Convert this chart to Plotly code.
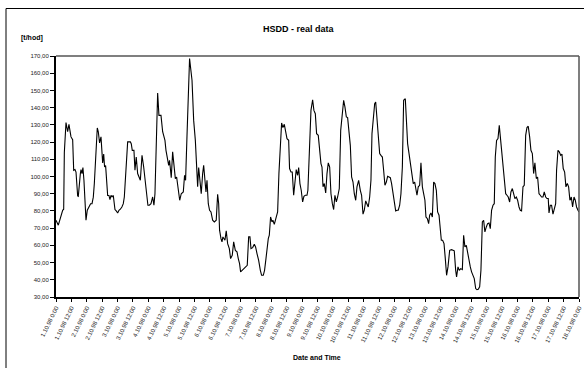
import plotly.graph_objects as go

# hours since 1.10.98 0:00
hours = [
    0, 1.8, 5.2, 6.0, 6.5, 7.0, 7.8, 9.1, 10.1, 10.6, 11.7, 13.0, 13.8, 14.8, 15.6, 16.9, 17.4,
    19.0, 19.5, 20.3, 21.0, 21.8, 22.6, 23.4, 24.4, 25.7, 27.0, 28.1, 29.1, 29.9, 30.7, 31.4,
    32.2, 33.0, 34.0, 35.1, 35.9, 36.4, 37.2, 37.9, 38.7, 39.5, 40.3, 41.3, 42.1, 42.9, 43.7,
    44.7, 46.0, 47.0, 48.1, 49.1, 50.2, 51.4, 52.5, 53.3, 54.3, 55.1, 55.9, 56.9, 58.0, 58.7,
    59.5, 60.8, 61.6, 62.6, 63.7, 65.8, 67.1, 68.4, 69.6, 70.7, 71.7, 72.8, 74.1, 75.4, 76.4,
    77.2, 78.2, 79.3, 80.3, 81.9, 83.2, 85.0, 85.8, 87.1, 87.9, 88.6, 89.9, 91.0, 92.0, 93.1,
    94.1, 95.4, 96.5, 97.7, 99.3, 100.3, 101.1, 102.2, 103.2, 104.2,
    106.1, 107.4, 108.7, 109.4, 110.5, 111.3, 112.0, 113.3, 114.4, 115.2, 116.2, 117.0, 117.8,
    118.8, 119.8, 120.9, 122.2, 123.5, 125.0, 126.1, 126.9, 127.6, 128.7, 129.5, 130.2, 131.8,
    132.8, 133.9, 135.2, 136.2, 137.5, 138.6, 139.9, 141.2, 142.2, 143.2, 144.0, 145.1, 146.4,
    147.9, 149.2, 150.3, 151.3, 152.1, 153.4, 154.7, 155.7, 156.8, 158.1, 159.4, 160.4, 161.7,
    162.7, 163.8, 164.8, 165.6, 166.4, 167.4, 168.5, 169.2, 170.3, 171.6, 172.9, 173.9, 175.0,
    176.0, 177.0, 178.1, 179.1, 180.2, 181.5, 182.2, 183.3, 184.3, 185.4, 186.4, 187.4, 188.5,
    189.3, 190.3, 191.3, 192.4, 193.4, 194.5, 195.8, 196.5, 197.8, 198.9, 200.2, 201.2, 202.3,
    203.3, 204.6, 205.6,
    206.7, 207.5, 208.3, 209.3, 210.4, 211.4, 212.4, 213.5, 214.5, 215.6, 216.6, 217.6, 218.7,
    219.7, 221.0, 222.1, 223.1, 224.4, 225.4, 226.5, 227.5, 228.8, 229.6, 230.6, 231.7, 232.7,
    233.8, 234.8, 236.1, 237.4, 238.4, 239.5, 240.5, 241.6, 242.6, 243.6, 244.7, 245.7, 246.5,
    247.5, 248.6, 249.4, 250.4, 251.4, 252.5, 253.5, 254.6, 255.6, 256.6, 257.7, 258.7, 259.8,
    260.8, 261.8, 262.9, 263.9, 265.0, 266.0, 267.0, 268.1, 269.1, 270.2, 271.2, 272.5, 273.3,
    274.3, 275.4, 276.4, 277.7, 278.7, 279.8, 280.8, 281.6, 282.6, 283.7, 284.7, 285.8, 286.8,
    287.8, 288.6, 289.7, 290.7, 291.5, 292.5, 293.6, 294.6, 295.6, 296.7, 297.7, 298.8, 299.8,
    300.6, 301.6, 302.7, 303.7, 304.7, 305.8, 307.1,
    308.6, 309.7, 310.7, 311.8, 312.5, 313.6, 314.6, 315.7, 317.0, 318.0, 319.0, 320.1, 321.1,
    322.2, 323.2, 324.2, 325.3, 326.3, 327.4, 328.4, 329.4, 330.5, 331.5, 332.6, 333.6, 334.6,
    335.7, 336.7, 337.8, 338.8, 339.8, 340.9, 341.9, 342.7, 343.7, 344.8, 345.8, 346.6, 347.6,
    348.7, 349.7, 350.8, 351.8, 352.8, 353.9, 354.9, 356.0, 357.0, 358.0, 359.1, 360.1, 361.2,
    362.2, 363.2, 364.3, 365.3, 366.4, 367.4, 368.4, 369.5, 370.5, 371.6, 372.6, 373.6, 374.7,
    375.7, 376.8, 377.8, 378.8, 379.9, 380.9, 382.0, 383.0, 384.0, 384.6, 385.6, 386.6, 387.7,
    388.7, 389.8, 390.5, 391.6, 392.6, 393.7, 394.7, 395.7, 396.8, 397.8, 398.9, 399.9, 400.9,
    402.0, 403.0, 404.1, 405.1, 406.1, 407.2, 408.0,
]

flow = [
    74.6, 71.7, 80.4, 81.0, 114.0, 123.0, 131.3, 126.0, 130.3, 128.0, 123.0, 121.4, 103.6, 104.0, 102.6, 88.7, 88.5,
    101.7, 104.0, 101.7, 105.2, 97.8, 86.0, 74.6, 80.4, 82.3, 84.2, 84.2, 88.0, 95.9, 107.5, 119.0,
    128.2, 126.0, 119.5, 123.0, 113.3, 107.9, 113.0, 105.5, 106.3, 94.0, 89.0, 89.0, 86.6, 89.0, 88.2,
    89.0, 80.8, 80.0, 78.8, 80.4, 81.0, 82.3, 84.2, 88.1, 101.7, 113.3, 120.1, 120.1, 120.1, 119.1,
    115.2, 115.2, 103.6, 111.3, 101.7, 97.8, 112.3, 105.5, 95.9, 88.1, 83.3, 83.3, 84.2, 88.1, 83.3,
    90.0, 115.2, 148.5, 135.5, 135.5, 126.0, 121.0, 115.2, 108.0, 106.5, 109.4, 99.3, 114.3, 104.6, 98.8,
    99.7, 92.0, 86.2, 90.0, 91.0, 100.7, 97.8, 123.9, 148.1, 168.5,
    155.9, 132.6, 121.0, 111.3, 94.0, 105.2, 97.8, 90.0, 101.7, 106.5, 97.8, 91.0, 97.8,
    84.2, 80.4, 79.4, 74.6, 73.6, 74.6, 89.7, 84.2, 68.8, 63.9, 62.0, 64.9, 63.0,
    68.4, 61.0, 58.1, 52.3, 54.2, 62.0, 57.1, 56.2, 52.3, 49.4, 44.6, 45.5, 46.3,
    47.5, 48.4, 64.9, 64.9, 58.1, 58.7, 60.6, 59.1, 55.2, 51.3, 45.5, 42.6, 42.6,
    45.5, 52.3, 59.1, 63.9, 65.9, 76.5, 73.6, 74.6, 72.2, 75.5, 79.4, 101.7, 118.1,
    131.1, 128.4, 130.3, 126.4, 122.0, 121.0, 104.6, 102.6, 102.6, 89.1, 95.9, 104.0, 100.7,
    105.2, 95.9, 92.0, 85.2, 88.5, 89.1, 89.1, 92.0, 121.0, 138.4, 144.6, 138.4, 136.5,
    124.9, 123.9, 114.3,
    107.5, 105.5, 94.0, 95.9, 90.4, 101.7, 107.9, 105.5, 90.0, 84.2, 80.8, 89.1, 85.2,
    88.1, 93.0, 126.8, 134.6, 144.3, 140.4, 134.6, 134.2, 123.0, 118.1, 99.7, 96.8, 90.0,
    86.2, 94.0, 97.8, 92.0, 89.1, 78.1, 80.4, 85.8, 84.2, 82.3, 88.1, 97.8, 124.9,
    134.6, 142.3, 143.3, 132.6, 123.9, 113.3, 112.3, 111.3, 103.6, 94.9, 96.8, 100.1, 99.7,
    99.3, 95.9, 91.0, 87.2, 80.0, 80.4, 80.4, 83.3, 90.0, 105.5, 144.3, 145.2, 134.6,
    119.1, 113.3, 107.5, 100.7, 95.9, 96.8, 93.0, 89.1, 94.0, 94.9, 107.9, 94.0, 90.0,
    86.2, 76.5, 75.5, 72.6, 77.5, 78.8, 76.5, 96.8, 95.9, 92.0, 79.4, 77.5, 67.9,
    63.0, 63.0, 61.0, 52.3, 42.6, 47.5, 57.1,
    57.5, 57.1, 56.8, 45.5, 41.7, 47.5, 45.5, 46.5, 45.9, 65.9, 59.1, 60.0, 55.2,
    51.3, 47.5, 44.6, 42.6, 40.7, 34.9, 34.3, 34.5, 35.9, 45.5, 73.6, 74.6, 67.8,
    70.7, 72.6, 73.0, 69.7, 80.4, 83.3, 84.2, 111.3, 121.0, 122.0, 129.7, 123.0, 116.2,
    105.5, 97.8, 90.0, 89.1, 88.1, 85.2, 91.0, 93.0, 90.0, 87.2, 88.1, 86.2, 82.3,
    80.4, 80.0, 94.0, 94.9, 123.9, 128.4, 129.2, 123.0, 115.2, 113.3, 101.7, 107.9, 98.8,
    99.7, 90.0, 89.1, 88.1, 88.1, 91.0, 88.1, 87.2, 87.2, 78.8, 83.3, 83.3, 78.1,
    81.3, 84.2, 103.6, 115.2, 114.3, 112.3, 113.0, 104.6, 102.6, 94.0, 95.9, 94.0, 86.2,
    88.1, 82.3, 88.1, 86.2, 82.3, 80.4, 79.4,
]

tick_hours = list(range(0, 409, 12))
tick_labels = [
    "1.10.98 0:00", "1.10.98 12:00", "2.10.98 0:00", "2.10.98 12:00",
    "3.10.98 0:00", "3.10.98 12:00", "4.10.98 0:00", "4.10.98 12:00",
    "5.10.98 0:00", "5.10.98 12:00", "6.10.98 0:00", "6.10.98 12:00",
    "7.10.98 0:00", "7.10.98 12:00", "8.10.98 0:00", "8.10.98 12:00",
    "9.10.98 0:00", "9.10.98 12:00", "10.10.98 0:00", "10.10.98 12:00",
    "11.10.98 0:00", "11.10.98 12:00", "12.10.98 0:00", "12.10.98 12:00",
    "13.10.98 0:00", "13.10.98 12:00", "14.10.98 0:00", "14.10.98 12:00",
    "15.10.98 0:00", "15.10.98 12:00", "16.10.98 0:00", "16.10.98 12:00",
    "17.10.98 0:00", "17.10.98 12:00", "18.10.98 0:00",
]
y_ticks = list(range(30, 171, 10))

FONT = "Liberation Sans, Arial, sans-serif"

fig = go.Figure()
fig.add_trace(go.Scatter(
    x=hours, y=flow, mode="lines",
    line=dict(color="black", width=1.1),
    hoverinfo="x+y", showlegend=False,
))

# plot area: x 56..579, y 56..297 in a 584x368 page
L, R, T, B = 56, 5, 56, 71
W, H = 584, 368
pw, ph = W - L - R, H - T - B

def px(x):
    return (x - L) / pw

def py(y):
    return (H - B - y) / ph

fig.update_layout(
    width=W, height=H,
    margin=dict(l=L, r=R, t=T, b=B, pad=0, autoexpand=False),
    paper_bgcolor="white", plot_bgcolor="white",
    separators=", ",
    font=dict(family=FONT, color="black"),
    xaxis=dict(
        range=[0, 408], tickmode="array", tickvals=tick_hours, ticktext=tick_labels,
        tickangle=-64, tickfont=dict(size=6, family=FONT, color="#222222"),
        ticks="outside", ticklen=3, tickwidth=1, tickcolor="black",
        showline=True, linecolor="black", linewidth=2, mirror=False,
        showgrid=False, zeroline=False, automargin=False,
    ),
    yaxis=dict(
        range=[30, 170], tickmode="array", tickvals=y_ticks,
        tickformat=".2f", tickfont=dict(size=6, family=FONT, color="#222222"),
        ticks="outside", ticklen=4, tickwidth=1, tickcolor="black",
        showline=True, linecolor="black", linewidth=2, mirror=False,
        showgrid=False, zeroline=False, automargin=False,
    ),
    shapes=[
        dict(type="line", xref="paper", yref="paper", x0=0, x1=1, y0=1, y1=1,
             line=dict(color="black", width=1.2)),
        dict(type="line", xref="paper", yref="paper", x0=1, x1=1, y0=0, y1=1,
             line=dict(color="#555555", width=1.5)),
        dict(type="line", xref="paper", yref="paper", x0=px(6), x1=px(590), y0=py(8.5), y1=py(8.5),
             line=dict(color="black", width=1)),
        dict(type="line", xref="paper", yref="paper", x0=px(6), x1=px(6), y0=py(8.5), y1=py(380),
             line=dict(color="black", width=1)),
    ],
    annotations=[
        dict(text="<b>HSDD - real data</b>", xref="paper", yref="paper",
             x=px(299), y=py(29), xanchor="center", yanchor="middle",
             showarrow=False, font=dict(size=9, family=FONT)),
        dict(text="<b>[t/hod]</b>", xref="paper", yref="paper",
             x=px(32), y=py(38), xanchor="center", yanchor="middle",
             showarrow=False, font=dict(size=7, family=FONT)),
        dict(text="<b>Date and Time</b>", xref="paper", yref="paper",
             x=px(317), y=py(357), xanchor="center", yanchor="middle",
             showarrow=False, font=dict(size=7, family=FONT)),
    ],
)

fig.write_html(
    "out.html",
    config={"displayModeBar": False},
    post_script="document.body.style.margin='0px';document.body.style.overflow='hidden';",
)
